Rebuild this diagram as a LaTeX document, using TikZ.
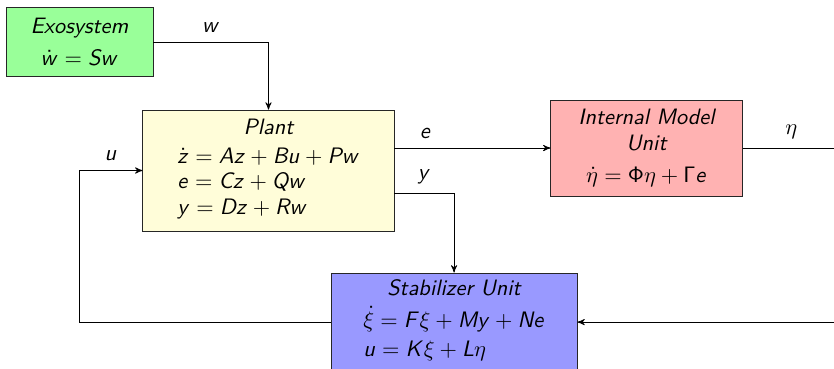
\documentclass[tikz,border=0pt]{standalone}
\usepackage{amsmath}
\usepackage{tikz}
\usetikzlibrary{arrows}
% maths en sans serif (lettres penchees, operateurs droits)
\makeatletter
\SetSymbolFont{operators}{normal}{OT1}{cmss}{m}{n}
\DeclareSymbolFont{sfletters}{OT1}{cmss}{m}{sl}
\newcount\lettercount
\lettercount=`a
\loop
  \mathcode\lettercount=\numexpr"7000+\symsfletters*"100+\lettercount\relax
  \mathcode\numexpr\lettercount-32\relax=\numexpr"7000+\symsfletters*"100+\lettercount-32\relax
  \advance\lettercount by 1
\ifnum\lettercount<123 \repeat
\makeatother
\tikzset{
  blocknode/.style = {draw=black!85, align=center, inner sep=2pt,
    font=\fontsize{10.9pt}{12.5pt}\selectfont\sffamily\itshape},
  exo_block/.style = {blocknode, fill=green!40,
    minimum width=2.53cm, minimum height=1.2cm},% exosysteme
  plant_block/.style = {blocknode, fill=yellow!15,
    minimum width=4.32cm, minimum height=2.08cm},% procede
  imu_block/.style = {blocknode, fill=red!30,
    minimum width=3.29cm, minimum height=1.65cm},% modele interne
  stab_block/.style = {blocknode, fill=blue!40,
    minimum width=4.23cm, minimum height=1.69cm},% stabilisateur
  sig_label/.style = {above, inner sep=4.5pt,
    font=\fontsize{10.9pt}{12.5pt}\selectfont}% signal
}

\begin{document}
\begin{tikzpicture}[>=stealth', thin]
    \useasboundingbox (0,0) rectangle (14.345,-6.347);
    \node [exo_block] (exo) at (1.367,-0.722) {Exosystem\\[3pt] $\dot{w} = Sw$};
    \node [plant_block] (plant) at (4.618,-2.933) {Plant\\[4pt]
      $\begin{array}{@{}l@{}}
        \dot{z} = Az + Bu + Pw\\
        e = Cz + Qw\\
        y = Dz + Rw
      \end{array}$};
    \node [imu_block] (imu) at (11.12,-2.546) {Internal Model\\ Unit\\[3pt]
      $\dot{\eta} = \Phi\eta + \Gamma e$};
    \node [stab_block] (stab) at (7.81,-5.54) {Stabilizer Unit\\[4pt]
      $\begin{array}{@{}l@{}}
        \dot{\xi} = F\xi + My + Ne\\[2pt]
        u = K\xi + L\eta
      \end{array}$};
    \coordinate (u_corner) at (1.359,-5.54);
    \coordinate (eta_corner) at (14.45,-2.546);
    % signaux
    \draw [->] (exo.east) -| node [sig_label, pos=0.25] {$w$} (plant.north);
    \draw [->] (plant.east |- imu.west) -- node [sig_label, pos=0.2] {$e$} (imu.west);
    \draw [->] ([yshift=-0.39cm]plant.east) -| node [sig_label, pos=0.25] {$y$} (stab.north);
    \draw [->] (imu.east) -- node [sig_label] {$\eta$} (eta_corner) |- (stab.east);
    \draw [->] (stab.west) -- (u_corner) |- node [sig_label, pos=0.75] {$u$} (plant.west);
\end{tikzpicture}
\end{document}
